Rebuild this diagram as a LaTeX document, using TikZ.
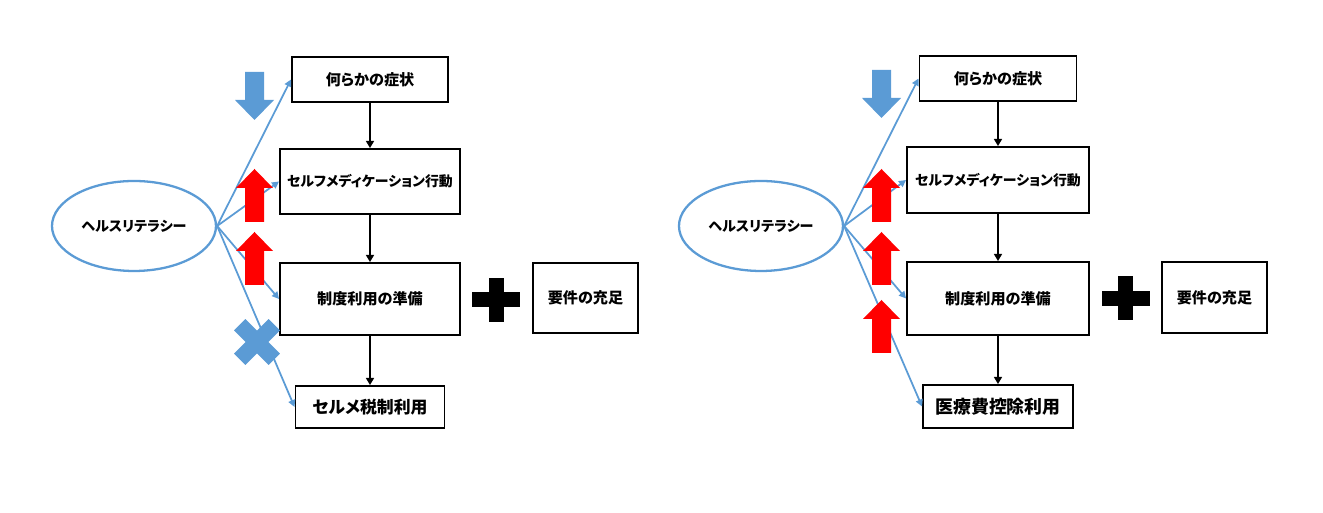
\documentclass[tikz,border=0pt]{standalone}
\usepackage{fontspec}
\newfontfamily\jpfont{Noto Sans CJK JP}[RawFeature=+palt]
\usetikzlibrary{arrows.meta, positioning, shapes.geometric}
\definecolor{hlblue}{RGB}{91,155,213}
\definecolor{hlred}{RGB}{255,0,0}

\begin{document}
\begin{tikzpicture}[
  flowbox/.style={draw=black, line width=1.1pt, fill=white, inner sep=0pt, font=\jpfont\bfseries\fontsize{8.6pt}{10pt}\selectfont},
  litnode/.style={ellipse, draw=hlblue, line width=1.3pt, inner sep=0pt, minimum width=3.28cm, minimum height=1.8cm, font=\jpfont\bfseries\fontsize{8.0pt}{10pt}\selectfont},
  litlink/.style={draw=hlblue, line width=1pt, -{Triangle[length=4pt, width=4pt]}},
  steplink/.style={draw=black, line width=0.9pt, -{Triangle[length=4pt, width=4.5pt]}},
  redup/.pic={\fill[hlred] (0,0) -- (0.37,-0.38) -- (0.19,-0.38) -- (0.19,-1.06) -- (-0.19,-1.06) -- (-0.19,-0.38) -- (-0.37,-0.38) -- cycle;},
  bluedown/.pic={\fill[hlblue] (0,0) -- (0.39,0.40) -- (0.19,0.40) -- (0.19,0.96) -- (-0.19,0.96) -- (-0.19,0.40) -- (-0.39,0.40) -- cycle;},
  crossmark/.pic={\fill[hlblue, rotate=45] (-0.49,-0.16) rectangle (0.49,0.16);
                  \fill[hlblue, rotate=-45] (-0.49,-0.16) rectangle (0.49,0.16);},
  plusmark/.pic={\fill[black] (-0.48,-0.15) rectangle (0.48,0.15);
                 \fill[black] (-0.15,-0.44) rectangle (0.15,0.44);}
]
  \useasboundingbox (0,0) rectangle (26.46,10.26);

  % left: セルフメディケーション税制
  \node[litnode] (litL) at (2.68, 5.74) {ヘルスリテラシー};
  \node[flowbox, minimum width=3.12cm, minimum height=0.90cm] (symL) at (7.40, 8.67) {何らかの症状};
  \node[flowbox, minimum width=3.60cm, minimum height=1.30cm, font=\jpfont\bfseries\fontsize{7.9pt}{10pt}\selectfont] (smbL) at (7.40, 6.63) {セルフメディケーション行動};
  \node[flowbox, minimum width=3.60cm, minimum height=1.44cm] (prepL) at (7.40, 4.28) {制度利用の準備};
  \node[flowbox, minimum width=2.98cm, minimum height=0.84cm, font=\jpfont\bfseries\fontsize{9.6pt}{11pt}\selectfont] (useL) at (7.40, 2.12) {セルメ税制利用};
  \node[flowbox, minimum width=2.10cm, minimum height=1.40cm] (reqL) at (11.71, 4.30) {要件の充足};

  \draw[steplink] (symL) -- (smbL);
  \draw[steplink] (smbL) -- (prepL);
  \draw[steplink] (prepL) -- (useL);
  \draw[litlink] (litL.east) -- (symL.west);
  \draw[litlink] (litL.east) -- (smbL.west);
  \draw[litlink] (litL.east) -- (prepL.west);
  \draw[litlink] (litL.east) -- (useL.west);

  \pic at (5.09, 7.86) {bluedown};
  \pic at (5.09, 6.88) {redup};
  \pic at (5.09, 5.62) {redup};
  \pic at (5.14, 3.42) {crossmark};
  \pic at (9.92, 4.26) {plusmark};

  % right: 医療費控除
  \begin{scope}[xshift=12.54cm]
    \node[litnode] (litR) at (2.68, 5.74) {ヘルスリテラシー};
    \node[flowbox, minimum width=3.14cm, minimum height=0.90cm] (symR) at (7.42, 8.69) {何らかの症状};
    \node[flowbox, minimum width=3.64cm, minimum height=1.32cm, font=\jpfont\bfseries\fontsize{7.9pt}{10pt}\selectfont] (smbR) at (7.42, 6.66) {セルフメディケーション行動};
    \node[flowbox, minimum width=3.64cm, minimum height=1.46cm] (prepR) at (7.42, 4.29) {制度利用の準備};
    \node[flowbox, minimum width=3.00cm, minimum height=0.86cm, font=\jpfont\bfseries\fontsize{10.2pt}{12pt}\selectfont] (useR) at (7.42, 2.13) {医療費控除利用};
    \node[flowbox, minimum width=2.10cm, minimum height=1.42cm] (reqR) at (11.75, 4.31) {要件の充足};

    \draw[steplink] (symR) -- (smbR);
    \draw[steplink] (smbR) -- (prepR);
    \draw[steplink] (prepR) -- (useR);
    \draw[litlink] (litR.east) -- (symR.west);
    \draw[litlink] (litR.east) -- (smbR.west);
    \draw[litlink] (litR.east) -- (prepR.west);
    \draw[litlink] (litR.east) -- (useR.west);

    \pic at (5.09, 7.90) {bluedown};
    \pic at (5.09, 6.88) {redup};
    \pic at (5.09, 5.62) {redup};
    \pic at (5.09, 4.26) {redup};
    \pic at (9.97, 4.29) {plusmark};
  \end{scope}
\end{tikzpicture}
\end{document}
